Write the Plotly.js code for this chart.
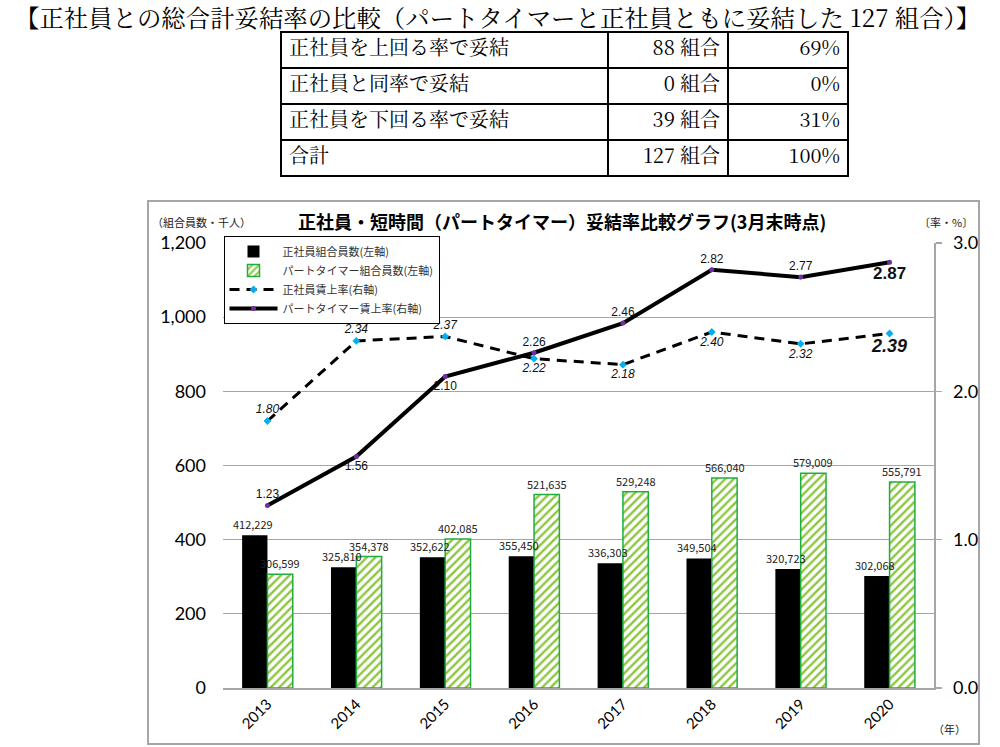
<!DOCTYPE html>
<html>
<head>
<meta charset="utf-8">
<script src="https://cdn.plot.ly/plotly-3.0.1.min.js"></script>
<style>html,body{margin:0;padding:0;background:#fff}#chart{width:1000px;height:747px}</style>
</head>
<body>
<div id="chart"></div>
<script>
// ---- data ----
var years = ['2013', '2014', '2015', '2016', '2017', '2018', '2019', '2020'];
var seishainMembers = [412229, 325810, 352622, 355450, 336303, 349504, 320723, 302068];
var partMembers = [306599, 354378, 402085, 521635, 529248, 566040, 579009, 555791];
var seishainRate = [1.80, 2.34, 2.37, 2.22, 2.18, 2.40, 2.32, 2.39];
var partRate = [1.23, 1.56, 2.10, 2.26, 2.46, 2.82, 2.77, 2.87];

var tableLabels = ['正社員を上回る率で妥結', '正社員と同率で妥結', '正社員を下回る率で妥結', '合計'];
var tableCounts = [88, 0, 39, 127];
var tablePct = [69, 0, 31, 100];

var seriesNames = ['正社員組合員数(左軸)', 'パートタイマー組合員数(左軸)', '正社員賃上率(右軸)', 'パートタイマー賃上率(右軸)'];

// ---- helpers ----
function fmt(n) { return n.toLocaleString('en-US'); }
var last = years.length - 1;

var partText = partRate.map(function (v, i) { return i === last ? '<b>' + v.toFixed(2) + '</b>' : v.toFixed(2); });
var seiText = seishainRate.map(function (v, i) { return i === last ? '<b><i>' + v.toFixed(2) + '</i></b>' : '<i>' + v.toFixed(2) + '</i>'; });
var partPos = ['top center', 'bottom center', 'bottom center', 'top center', 'top center', 'top center', 'top center', 'bottom center'];
var seiPos = ['top center', 'top center', 'top center', 'bottom center', 'bottom center', 'bottom center', 'bottom center', 'bottom center'];
var partSizes = partRate.map(function (v, i) { return i === last ? 17 : 12; });
var seiSizes = seishainRate.map(function (v, i) { return i === last ? 18 : 12; });

var numFont = 'Noto Sans CJK JP, DejaVu Sans, sans-serif';
var jpSans = 'Noto Sans CJK JP, sans-serif';
var serif = 'Noto Serif CJK JP, Liberation Serif, Noto Sans CJK JP, serif';

var countText = tableCounts.map(function (v) { return v + ' 組合'; });
var pctText = tablePct.map(function (v) { return v + '%'; });

var traces = [
  {
    type: 'bar', name: seriesNames[0], x: years,
    y: seishainMembers.map(function (v) { return v / 1000; }),
    marker: { color: '#000000', line: { color: '#000000', width: 0 } },
    hoverinfo: 'skip'
  },
  {
    type: 'bar', name: seriesNames[1], x: years,
    y: partMembers.map(function (v) { return v / 1000; }),
    marker: {
      color: '#ffffff',
      pattern: { shape: '/', fgcolor: '#8cc63f', bgcolor: '#ffffff', size: 6, solidity: 0.4 },
      line: { color: '#1fae3c', width: 1.5 }
    },
    hoverinfo: 'skip'
  },
  {
    type: 'scatter', mode: 'lines+markers+text', name: seriesNames[2], x: years, y: seishainRate, yaxis: 'y2',
    text: seiText, textposition: seiPos, cliponaxis: false,
    textfont: { family: 'Liberation Sans, Arial, sans-serif', size: seiSizes, color: '#111' },
    line: { color: '#000000', width: 3, dash: '10px,7px' },
    marker: { symbol: 'diamond', size: 6, color: '#00b0f0' },
    hoverinfo: 'skip'
  },
  {
    type: 'scatter', mode: 'lines+markers+text', name: seriesNames[3], x: years, y: partRate, yaxis: 'y2',
    text: partText, textposition: partPos, cliponaxis: false,
    textfont: { family: 'Liberation Sans, Arial, sans-serif', size: partSizes, color: '#111' },
    line: { color: '#000000', width: 4 },
    marker: { symbol: 'circle', size: 5, color: '#7030a0' },
    hoverinfo: 'skip'
  },
  {
    type: 'table',
    domain: { x: [0.281, 0.848], y: [1 - 177 / 747, 1 - 32 / 747] },
    columnwidth: [327, 120, 120],
    header: {
      values: [tableLabels[0], countText[0], pctText[0]],
      align: ['left', 'right', 'right'],
      height: 36,
      line: { color: '#000000', width: 2 },
      fill: { color: '#ffffff' },
      font: { family: serif, size: 20, color: '#000' }
    },
    cells: {
      values: [tableLabels.slice(1), countText.slice(1), pctText.slice(1)],
      align: ['left', 'right', 'right'],
      height: 36,
      line: { color: '#000000', width: 2 },
      fill: { color: '#ffffff' },
      font: { family: serif, size: 20, color: '#000' }
    }
  }
];

// bar value labels as annotations so they sit above both bar series
var barShift = 12.7;
var barAnn = [];
years.forEach(function (yr, i) {
  barAnn.push({ x: i, y: seishainMembers[i] / 1000, xref: 'x', yref: 'y', text: fmt(seishainMembers[i]),
    xshift: -barShift - 2, yshift: 1, xanchor: 'center', yanchor: 'bottom', showarrow: false,
    font: { family: numFont, size: 11, color: '#222' } });
  barAnn.push({ x: i, y: partMembers[i] / 1000, xref: 'x', yref: 'y', text: fmt(partMembers[i]),
    xshift: barShift, yshift: 1, xanchor: 'center', yanchor: 'bottom', showarrow: false,
    font: { family: numFont, size: 11, color: '#222' } });
});

var layout = {
  width: 1000, height: 747,
  margin: { l: 0, r: 0, t: 0, b: 0 },
  paper_bgcolor: '#ffffff', plot_bgcolor: '#ffffff',
  showlegend: true,
  barmode: 'group', bargap: 0.43, bargroupgap: 0,
  font: { family: jpSans, color: '#000' },
  xaxis: {
    type: 'category', domain: [0.223, 0.934], range: [-0.5, years.length - 0.5],
    showline: true, linecolor: '#a6a6a6', linewidth: 1.5,
    ticks: '', tickangle: -45,
    tickfont: { family: 'Lato, Liberation Sans, sans-serif', size: 15, color: '#000' },
    showgrid: false, fixedrange: true
  },
  yaxis: {
    domain: [1 - 688 / 747, 1 - 243 / 747],
    range: [0, 1200], dtick: 200, tickformat: ',',
    showgrid: true, gridcolor: '#a6a6a6', gridwidth: 1.3,
    zeroline: false, showline: false, ticks: '',
    ticklabelstandoff: 16,
    tickfont: { family: 'Lato, Liberation Sans, sans-serif', size: 18, color: '#000' },
    fixedrange: true
  },
  yaxis2: {
    overlaying: 'y', side: 'right',
    range: [0, 3], dtick: 1, tickformat: '.1f',
    showgrid: false, zeroline: false,
    showline: true, linecolor: '#a6a6a6', linewidth: 1.5,
    ticks: 'outside', ticklen: 6, tickcolor: '#a6a6a6', tickwidth: 1.3,
    ticklabelstandoff: 8,
    tickfont: { family: 'Lato, Liberation Sans, sans-serif', size: 18, color: '#000' },
    fixedrange: true
  },
  legend: {
    x: 0.2235, y: 1 - 236 / 747, xanchor: 'left', yanchor: 'top',
    bgcolor: '#ffffff', bordercolor: '#000000', borderwidth: 1,
    font: { family: jpSans, size: 11, color: '#333' },
    tracegroupgap: 0, itemwidth: 48
  },
  shapes: [
    { type: 'rect', xref: 'paper', yref: 'paper', x0: 0.148, x1: 0.979, y0: 1 - 744 / 747, y1: 1 - 201 / 747,
      line: { color: '#a6a6a6', width: 2 }, fillcolor: 'rgba(0,0,0,0)', layer: 'below' }
  ],
  annotations: barAnn.concat([
    { text: '【正社員との総合計妥結率の比較（パートタイマーと正社員ともに妥結した 127 組合）】',
      xref: 'paper', yref: 'paper', x: 0.497, y: 1 - 16 / 747, xanchor: 'center', yanchor: 'middle',
      showarrow: false, font: { family: serif, size: 24.4, color: '#000' } },
    { text: '<b>正社員・短時間（パートタイマー）妥結率比較グラフ(3月末時点)</b>',
      xref: 'paper', yref: 'paper', x: 0.562, y: 1 - 221 / 747, xanchor: 'center', yanchor: 'middle',
      showarrow: false, font: { family: jpSans, size: 18, color: '#000' } },
    { text: '（組合員数・千人）', xref: 'paper', yref: 'paper', x: 0.150, y: 1 - 222 / 747,
      xanchor: 'left', yanchor: 'middle', showarrow: false, font: { family: jpSans, size: 11, color: '#222' } },
    { text: '〔率・%〕', xref: 'paper', yref: 'paper', x: 0.975, y: 1 - 222 / 747,
      xanchor: 'right', yanchor: 'middle', showarrow: false, font: { family: jpSans, size: 11, color: '#222' } },
    { text: '（年）', xref: 'paper', yref: 'paper', x: 0.968, y: 1 - 729 / 747,
      xanchor: 'right', yanchor: 'middle', showarrow: false, font: { family: jpSans, size: 11, color: '#222' } }
  ])
};

Plotly.newPlot('chart', traces, layout, { staticPlot: true, displayModeBar: false });
</script>
</body>
</html>
